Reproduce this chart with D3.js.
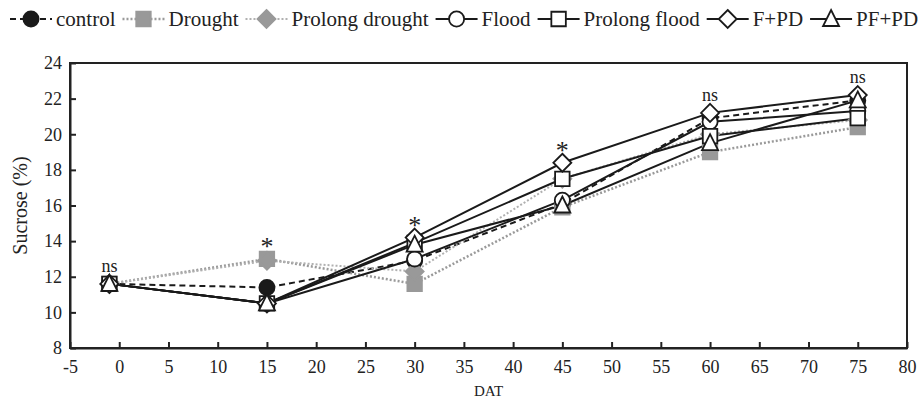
<!DOCTYPE html>
<html><head><meta charset="utf-8">
<script src="https://cdn.jsdelivr.net/npm/d3@7"></script>
<style>body{margin:0;background:#fff}svg{display:block}text{font-family:"Liberation Serif","Times New Roman",serif;fill:#222}</style>
</head><body><svg id="c" width="918" height="402"></svg>
<script>
const days = [-1, 15, 30, 45, 60, 75];
const seriesNames = ["control","Drought","Prolong drought","Flood","Prolong flood","F+PD","PF+PD"];
const control        = [11.6, 11.4, 12.9, 16.1, 20.9, 21.9];
const drought        = [11.6, 13.0, 11.6, 15.9, 19.0, 20.4];
const prolongDrought = [11.6, 12.9, 12.3, 17.5, 20.0, 20.8];
const flood          = [11.6, 10.5, 13.0, 16.3, 20.7, 21.3];
const prolongFlood   = [11.6, 10.5, 13.9, 17.5, 19.9, 20.9];
const fpd            = [11.6, 10.5, 14.2, 18.4, 21.2, 22.2];
const pfpd           = [11.6, 10.5, 13.8, 16.0, 19.5, 21.9];
const xTicks = [-5,0,5,10,15,20,25,30,35,40,45,50,55,60,65,70,75,80];
const yTicks = [8,10,12,14,16,18,20,22,24];
const annotLabels = ["ns","*","*","*","ns","ns"];

const styles = [
  {vals:control, shape:"circle", fill:"#1a1a1a", stroke:"#1a1a1a", line:"#1a1a1a", dash:"6,4", lw:2},
  {vals:drought, shape:"square", fill:"#999", stroke:"#999", line:"#9a9a9a", dash:"2,2", lw:2.5},
  {vals:prolongDrought, shape:"diamond", fill:"#999", stroke:"#999", line:"#b0b0b0", dash:"2,2", lw:2},
  {vals:flood, shape:"circle", fill:"#fff", stroke:"#1a1a1a", line:"#1a1a1a", dash:null, lw:2},
  {vals:prolongFlood, shape:"square", fill:"#fff", stroke:"#1a1a1a", line:"#1a1a1a", dash:null, lw:2},
  {vals:fpd, shape:"diamond", fill:"#fff", stroke:"#1a1a1a", line:"#1a1a1a", dash:null, lw:2},
  {vals:pfpd, shape:"triangle", fill:"#fff", stroke:"#1a1a1a", line:"#1a1a1a", dash:null, lw:2}
];

const svg = d3.select("#c");
const L=70, R=907, T=63, B=348;
const x = d3.scaleLinear().domain([-5,80]).range([L,R]);
const y = d3.scaleLinear().domain([8,24]).range([B,T]);

function markerPath(shape){
  if(shape==="circle") return d3.symbol(d3.symbolCircle, 180)();
  if(shape==="square") return d3.symbol(d3.symbolSquare, 210)();
  if(shape==="diamond") { const s=9; return `M0,${-s}L${s},0L0,${s}L${-s},0Z`; }
  if(shape==="triangle") { const s=8; return `M0,${-s-1}L${s},${s-1}L${-s},${s-1}Z`; }
}

svg.append("rect").attr("x",L).attr("y",T).attr("width",R-L).attr("height",B-T)
  .attr("fill","none").attr("stroke","#222").attr("stroke-width",2);

const gx = svg.append("g").attr("transform",`translate(0,${B})`)
  .call(d3.axisBottom(x).tickValues(xTicks).tickFormat(d=>String(d)).tickSizeInner(-6).tickSizeOuter(0).tickPadding(12));
const gy = svg.append("g").attr("transform",`translate(${L},0)`)
  .call(d3.axisLeft(y).tickValues(yTicks).tickFormat(d=>String(d)).tickSizeInner(-6).tickSizeOuter(0).tickPadding(8));
[gx,gy].forEach(g=>{
  g.attr("font-family",null);
  g.select(".domain").attr("stroke","#222").attr("stroke-width",2);
  g.selectAll(".tick line").attr("stroke","#222").attr("stroke-width",2);
  g.selectAll(".tick text").attr("font-size",18).attr("fill","#222");
});

svg.append("text").attr("transform",`translate(27,${(T+B)/2}) rotate(-90)`)
  .attr("text-anchor","middle").attr("font-size",20).text("Sucrose (%)");
svg.append("text").attr("x",(L+R)/2).attr("y",396).attr("text-anchor","middle")
  .attr("font-size",15).text("DAT");

const line = d3.line().x((d,i)=>x(days[i])).y(d=>y(d));
styles.forEach(s=>{
  svg.append("path").attr("d",line(s.vals)).attr("fill","none")
    .attr("stroke",s.line).attr("stroke-width",s.lw)
    .attr("stroke-dasharray",s.dash);
});
styles.forEach(s=>{
  svg.append("g").selectAll("path").data(s.vals).join("path")
    .attr("d",markerPath(s.shape))
    .attr("transform",(d,i)=>`translate(${x(days[i])},${y(d)})`)
    .attr("fill",s.fill).attr("stroke",s.stroke).attr("stroke-width",1.8);
});

days.forEach((d,i)=>{
  const mx = d3.max(styles, s=>s.vals[i]);
  const lab = annotLabels[i];
  svg.append("text").attr("x",x(d)).attr("y", lab==="ns" ? y(mx)-12 : y(mx)-4)
    .attr("text-anchor","middle").attr("font-size", lab==="ns"?18:26).text(lab);
});

let cx = 10; const ly = 19, sw = 42;
styles.forEach((s,i)=>{
  const g = svg.append("g");
  g.append("line").attr("x1",cx).attr("x2",cx+sw).attr("y1",ly).attr("y2",ly)
    .attr("stroke",s.line).attr("stroke-width",s.lw).attr("stroke-dasharray",s.dash);
  g.append("path").attr("d",markerPath(s.shape)).attr("transform",`translate(${cx+sw/2},${ly})`)
    .attr("fill",s.fill).attr("stroke",s.stroke).attr("stroke-width",1.8);
  const t = g.append("text").attr("x",cx+sw+4).attr("y",ly+7).attr("font-size",21).text(seriesNames[i]);
  cx = cx + sw + 4 + t.node().getComputedTextLength() + 7;
});
</script></body></html>
